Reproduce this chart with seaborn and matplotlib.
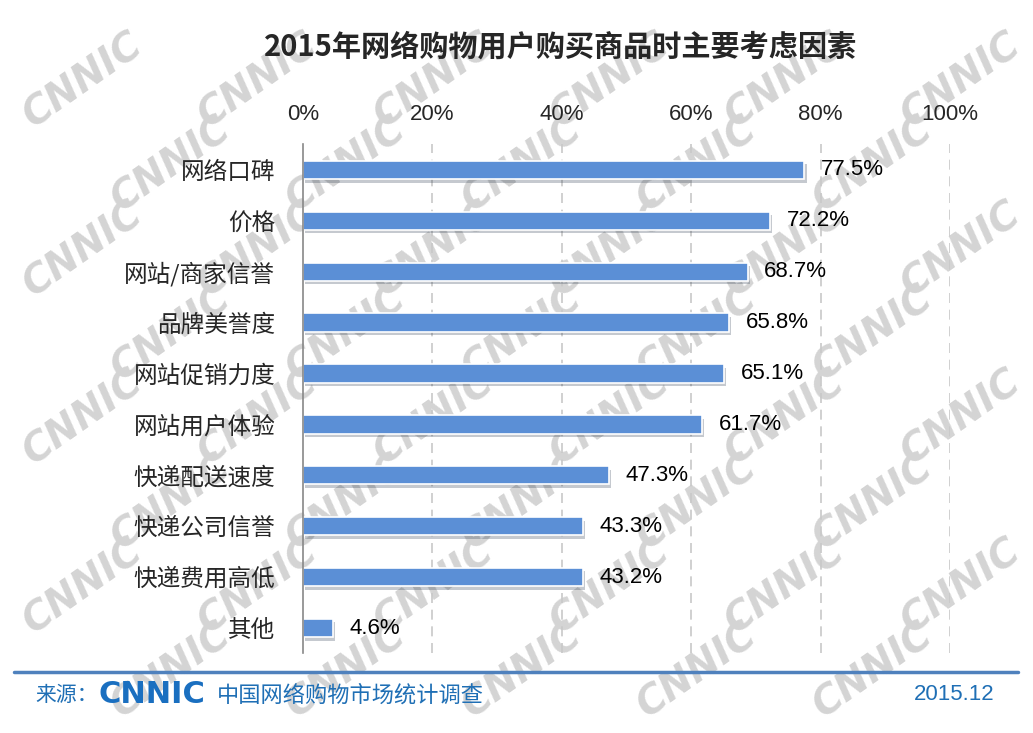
import numpy as np
import pandas as pd
import seaborn as sns
import matplotlib.pyplot as plt
import matplotlib.patheffects as pe

# data
factors = ["网络口碑", "价格", "网站/商家信誉", "品牌美誉度", "网站促销力度",
           "网站用户体验", "快递配送速度", "快递公司信誉", "快递费用高低", "其他"]
shares = [77.5, 72.2, 68.7, 65.8, 65.1, 61.7, 47.3, 43.3, 43.2, 4.6]
x_ticks = [0, 20, 40, 60, 80, 100]

df = pd.DataFrame({"factor": factors, "share": shares})

sns.set_style("white")
plt.rcParams['font.family'] = ['Noto Sans CJK SC', 'DejaVu Sans']
num_font = ['Liberation Sans', 'DejaVu Sans']

fig = plt.figure(figsize=(10.33, 7.33), dpi=100)

# background watermark, on its own axes behind the chart
bg = fig.add_axes([0, 0, 1, 1], zorder=-10)
bg.set_xlim(0, 1)
bg.set_ylim(0, 1)
bg.axis("off")
for row in range(8):
    for col in range(6):
        x = 0.08 + col * 0.17 + (row % 2) * 0.085
        y = 0.89 - row * 0.115
        if x > 0.95:
            continue
        bg.text(x, y, "CNNIC", fontsize=28, color="#d4d4d4", rotation=35,
                fontweight="bold", style="italic", ha="center", va="center",
                family="DejaVu Sans", clip_on=True)

ax = fig.add_axes([0.2933, 0.1085, 0.6264, 0.6944], zorder=1)
ax.patch.set_alpha(0)

bar_color = "#5b8fd6"
sns.barplot(data=df, y="factor", x="share", orient="h", color=bar_color,
            width=0.36, edgecolor="white", linewidth=1.2, saturation=1, ax=ax)
for p in ax.patches:
    p.set_path_effects([pe.SimplePatchShadow(offset=(1.5, -2.5), alpha=0.25), pe.Normal()])
    ax.text(p.get_width() + 2.6, p.get_y() + p.get_height() / 2,
            f"{p.get_width():.1f}%", va="center", ha="left", fontsize=16,
            color="black", family=num_font)

ax.set_xlim(0, 100)
ax.set_ylim(len(factors) - 0.5, -0.5)
ax.xaxis.tick_top()
ax.set_xticks(x_ticks)
ax.set_xticklabels([f"{t}%" for t in x_ticks], fontsize=16, family=num_font)
ax.tick_params(axis="x", length=0, pad=14)
ax.set_xlabel("")
ax.set_ylabel("")

# category labels and separator ticks
ax.set_yticks(range(len(factors)))
ax.set_yticklabels(factors, fontsize=17)
ax.tick_params(axis="y", length=0, pad=20)
ax.set_yticks(np.arange(-0.5, len(factors), 1), minor=True)
ax.tick_params(axis="y", which="minor", length=6, color="#888888", width=1)

for t in x_ticks[1:]:
    ax.axvline(t, color="#c8c8c8", linestyle=(0, (6, 4)), linewidth=1.2, zorder=0)

for s in ["top", "right", "bottom"]:
    ax.spines[s].set_visible(False)
ax.spines["left"].set_color("#888888")
ax.spines["left"].set_linewidth(1.2)

fig.text(0.543, 0.937, "2015年网络购物用户购买商品时主要考虑因素", fontsize=21,
         fontweight="bold", ha="center", va="center")

# footer
blue = "#1f6fb5"
fig.add_artist(plt.Line2D([0.014, 0.985], [0.083, 0.083], color="#4f81bd",
                          linewidth=2.5, transform=fig.transFigure))
fig.text(0.034, 0.052, "来源：", fontsize=15, color=blue, va="center")
fig.text(0.095, 0.052, "CNNIC", fontsize=22, color="#1a6fc0", va="center",
         fontweight="bold", family="DejaVu Sans")
fig.text(0.21, 0.052, "中国网络购物市场统计调查", fontsize=16, color=blue, va="center")
fig.text(0.963, 0.052, "2015.12", fontsize=16, color=blue, va="center", ha="right",
         family=num_font)

fig.savefig("out.png", dpi=100)
